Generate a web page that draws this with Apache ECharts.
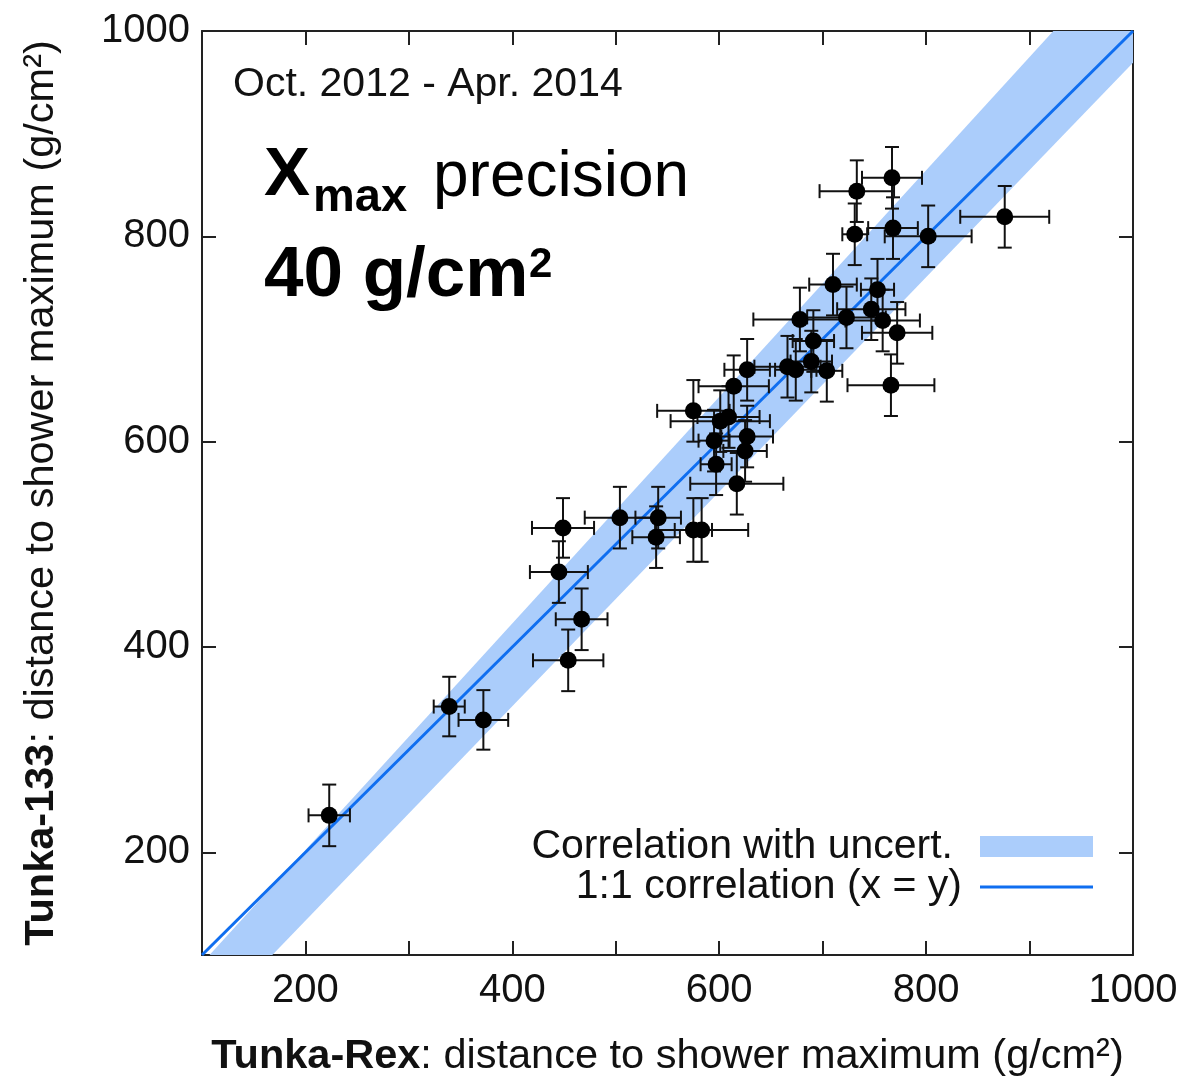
<!DOCTYPE html>
<html>
<head>
<meta charset="utf-8">
<title>Tunka-Rex vs Tunka-133 Xmax</title>
<script src="https://cdn.jsdelivr.net/npm/echarts@6/dist/echarts.min.js"></script>
<style>
    html, body { margin: 0; padding: 0; background: #fff; }
    #xmax_chart { width: 1184px; height: 1083px; }
</style>
</head>
<body>
<div id="xmax_chart"></div>
<script>

// Data
// ------------------------------

// Tunka-Rex Xmax (x) with uncertainty
var rexXmax = [223, 339, 372, 454, 467, 445, 449, 504, 541, 539, 575, 583, 617, 597, 625, 595, 627, 601, 609, 575, 614, 627, 666, 674, 689, 704, 691, 678, 723, 758, 772, 747, 710, 753, 766, 731, 768, 802, 876, 733, 767];
var rexErr = [20, 15, 24, 34, 25, 28, 30, 34, 22, 23, 18, 45, 45, 15, 21, 15, 25, 48, 30, 35, 34, 22, 32, 20, 20, 15, 20, 45, 38, 36, 34, 33, 23, 16, 42, 12, 24, 42, 43, 36, 29];

// Tunka-133 Xmax (y) with uncertainty
var t133Xmax = [236, 342, 329, 387, 427, 473, 516, 526, 526, 507, 514, 514, 559, 578, 591, 601, 605, 620, 624, 630, 654, 670, 673, 670, 678, 669, 698, 719, 721, 718, 706, 729, 753, 748, 655, 802, 808, 800, 819, 844, 857];
var t133Err = [30, 29, 29, 30, 30, 30, 29, 30, 30, 30, 31, 31, 30, 30, 30, 30, 30, 30, 30, 30, 30, 30, 30, 30, 30, 30, 30, 31, 30, 30, 30, 30, 30, 30, 30, 30, 30, 30, 30, 30, 30];

// Correlation band (lower and upper edge) and 1:1 line
var bandX = [100, 1000];
var bandLow = [29, 969];
var bandHigh = [92, 1085];
var unityX = [100, 1000];

// Tick values
var xTickValues = [200, 300, 400, 500, 600, 700, 800, 900];
var xLabelValues = [200, 400, 600, 800, 1000];
var yTickValues = [200, 400, 600, 800];
var yLabelValues = [200, 400, 600, 800, 1000];


// Chart
// ------------------------------

var FONT = '"Liberation Sans", Arial, sans-serif';
var BAND_COLOR = '#abcdfb';
var LINE_COLOR = '#0f6ef0';

var chart_element = document.getElementById('xmax_chart');
var xmax_chart = echarts.init(chart_element);

var points = rexXmax.map(function(x, i) {
    return [x, t133Xmax[i], rexErr[i], t133Err[i]];
});

// Error bars with caps
var renderErrorBar = function(params, api) {
    var x = api.value(0), y = api.value(1), ex = api.value(2), ey = api.value(3);
    var l = api.coord([x - ex, y]);
    var r = api.coord([x + ex, y]);
    var t = api.coord([x, y + ey]);
    var b = api.coord([x, y - ey]);
    var cap = 7;
    var style = { stroke: '#111', lineWidth: 2 };
    return {
        type: 'group',
        children: [
            { type: 'line', shape: { x1: l[0], y1: l[1], x2: r[0], y2: r[1] }, style: style },
            { type: 'line', shape: { x1: l[0], y1: l[1] - cap, x2: l[0], y2: l[1] + cap }, style: style },
            { type: 'line', shape: { x1: r[0], y1: r[1] - cap, x2: r[0], y2: r[1] + cap }, style: style },
            { type: 'line', shape: { x1: t[0], y1: t[1], x2: b[0], y2: b[1] }, style: style },
            { type: 'line', shape: { x1: t[0] - cap, y1: t[1], x2: t[0] + cap, y2: t[1] }, style: style },
            { type: 'line', shape: { x1: b[0] - cap, y1: b[1], x2: b[0] + cap, y2: b[1] }, style: style }
        ]
    };
};

// Band polygon, clipped to the plot area
var renderBand = function(params, api) {
    var pts = [];
    bandX.forEach(function(x, i) { pts.push(api.coord([x, bandLow[i]])); });
    for (var i = bandX.length - 1; i >= 0; i--) { pts.push(api.coord([bandX[i], bandHigh[i]])); }
    var cs = params.coordSys;
    return {
        type: 'polygon',
        shape: { points: pts },
        style: { fill: BAND_COLOR },
        clipPath: { type: 'rect', shape: { x: cs.x, y: cs.y, width: cs.width, height: cs.height } }
    };
};

var plainNumber = function(v) { return String(v); };

var axisCommon = {
    type: 'value',
    min: 100,
    max: 1000,
    splitLine: { show: false },
    axisLine: { show: true, onZero: false, lineStyle: { color: '#222', width: 2 } }
};

var tickStyle = { color: '#222', width: 2 };

xmax_chart.setOption({
    animation: false,
    textStyle: { fontFamily: FONT },
    grid: { left: 202, top: 31, right: 51, bottom: 121, containLabel: false },
    xAxis: [
        Object.assign({}, axisCommon, {
            position: 'bottom',
            name: '{b|Tunka-Rex}: distance to shower maximum (g/cm²)',
            nameLocation: 'middle',
            nameGap: 81,
            nameTextStyle: {
                fontSize: 41.5, color: '#111', fontFamily: FONT,
                rich: { b: { fontSize: 41.5, fontWeight: 'bold', color: '#111', fontFamily: FONT } }
            },
            axisTick: { show: true, inside: true, length: 14, customValues: xTickValues, lineStyle: tickStyle },
            axisLabel: { show: true, margin: 16, fontSize: 40, color: '#111', fontFamily: FONT, customValues: xLabelValues, formatter: plainNumber }
        }),
        Object.assign({}, axisCommon, {
            position: 'top',
            axisTick: { show: true, inside: true, length: 14, customValues: xTickValues, lineStyle: tickStyle },
            axisLabel: { show: false }
        })
    ],
    yAxis: [
        Object.assign({}, axisCommon, {
            position: 'left',
            name: '{b|Tunka-133}: distance to shower maximum (g/cm²)',
            nameLocation: 'middle',
            nameGap: 139,
            nameTextStyle: {
                fontSize: 41.5, color: '#111', fontFamily: FONT,
                rich: { b: { fontSize: 41.5, fontWeight: 'bold', color: '#111', fontFamily: FONT } }
            },
            axisTick: { show: true, inside: true, length: 14, customValues: yTickValues, lineStyle: tickStyle },
            axisLabel: { show: true, margin: 12, fontSize: 40, color: '#111', fontFamily: FONT, customValues: yLabelValues, formatter: plainNumber }
        }),
        Object.assign({}, axisCommon, {
            position: 'right',
            axisTick: { show: true, inside: true, length: 14, customValues: yTickValues, lineStyle: tickStyle },
            axisLabel: { show: false }
        })
    ],
    series: [
        {
            name: 'Correlation with uncert.',
            type: 'custom',
            renderItem: renderBand,
            data: [[bandX[0], bandLow[0]]],
            encode: { x: 0, y: 1 },
            silent: true,
            z: 1
        },
        {
            name: '1:1 correlation (x = y)',
            type: 'line',
            data: unityX.map(function(v) { return [v, v]; }),
            symbol: 'none',
            lineStyle: { color: LINE_COLOR, width: 3 },
            silent: true,
            z: 2
        },
        {
            type: 'custom',
            renderItem: renderErrorBar,
            data: points,
            encode: { x: 0, y: 1 },
            silent: true,
            z: 3
        },
        {
            type: 'scatter',
            data: points.map(function(p) { return [p[0], p[1]]; }),
            symbolSize: 17,
            itemStyle: { color: '#000', opacity: 1 },
            silent: true,
            z: 4
        }
    ],
    graphic: [
        { type: 'text', left: 233, top: 64, style: { text: 'Oct. 2012 - Apr. 2014', font: '41px ' + FONT, fill: '#111' } },
        { type: 'text', left: 264, top: 141, style: { text: 'X', font: 'bold 69px ' + FONT, fill: '#000' } },
        { type: 'text', left: 313, top: 175, style: { text: 'max', font: 'bold 47px ' + FONT, fill: '#000' } },
        { type: 'text', left: 433, top: 146, style: { text: 'precision', font: '64px ' + FONT, fill: '#000' } },
        { type: 'text', left: 264, top: 241, style: { text: '40 g/cm', font: 'bold 71px ' + FONT, fill: '#000' } },
        { type: 'text', left: 529, top: 244, style: { text: '2', font: 'bold 42px ' + FONT, fill: '#000' } },
        // Legend
        { type: 'rect', shape: { x: 980, y: 836, width: 113, height: 21 }, style: { fill: BAND_COLOR } },
        { type: 'line', shape: { x1: 980, y1: 887, x2: 1093, y2: 887 }, style: { stroke: LINE_COLOR, lineWidth: 3 } },
        { type: 'text', style: { x: 953, y: 847, text: 'Correlation with uncert.', align: 'right', verticalAlign: 'middle', font: '41px ' + FONT, fill: '#111' } },
        { type: 'text', style: { x: 962, y: 887, text: '1:1 correlation (x = y)', align: 'right', verticalAlign: 'middle', font: '41px ' + FONT, fill: '#111' } }
    ]
});

window.addEventListener('resize', function() {
    xmax_chart.resize();
});

</script>
</body>
</html>
